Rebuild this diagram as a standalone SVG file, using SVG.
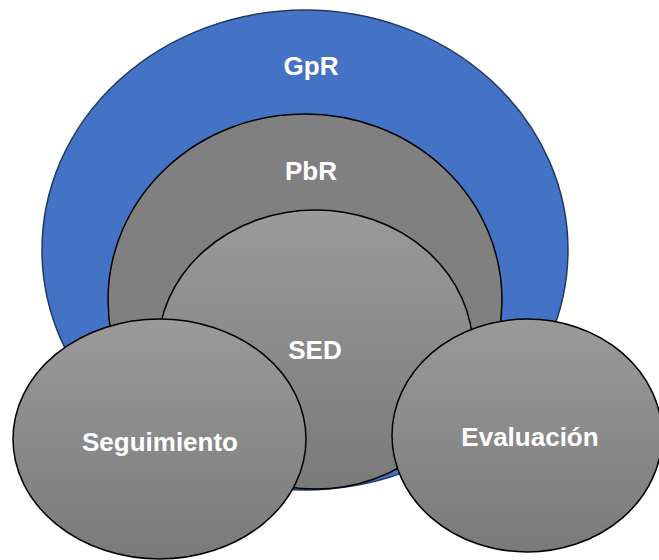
<svg xmlns="http://www.w3.org/2000/svg" width="659" height="560" viewBox="0 0 659 560">
<defs>
<linearGradient id="gr" x1="0" y1="0" x2="0" y2="1">
<stop offset="0" stop-color="#9a9a9a"/>
<stop offset="1" stop-color="#7a7a7a"/>
</linearGradient>
<style>
.lbl{font-family:"Liberation Sans",Arial,sans-serif;font-weight:bold;font-size:26px;fill:#ffffff;text-anchor:middle}
.sh{stroke:#000;stroke-width:1.5}
</style>
</defs>
<rect width="659" height="560" fill="#ffffff"/>
<g id="gpr">
<ellipse cx="305" cy="250" rx="263" ry="240" fill="#4472c4" stroke="#1f3864" stroke-width="1.5"/>
<text class="lbl" x="311" y="75">GpR</text>
</g>
<g id="pbr">
<ellipse cx="305" cy="300" rx="197" ry="186" fill="#808080" class="sh"/>
<text class="lbl" x="311" y="180">PbR</text>
</g>
<g id="sed">
<ellipse cx="315.5" cy="349.5" rx="157.5" ry="139.5" fill="url(#gr)" class="sh"/>
<text class="lbl" x="315" y="359">SED</text>
</g>
<g id="seguimiento">
<ellipse cx="159.5" cy="439" rx="146.5" ry="120" fill="url(#gr)" class="sh"/>
<text class="lbl" x="160" y="451">Seguimiento</text>
</g>
<g id="evaluacion">
<ellipse cx="527" cy="435.5" rx="135" ry="116.5" fill="url(#gr)" class="sh"/>
<text class="lbl" x="530" y="446">Evaluación</text>
</g>
<g id="connectors"/>
</svg>
